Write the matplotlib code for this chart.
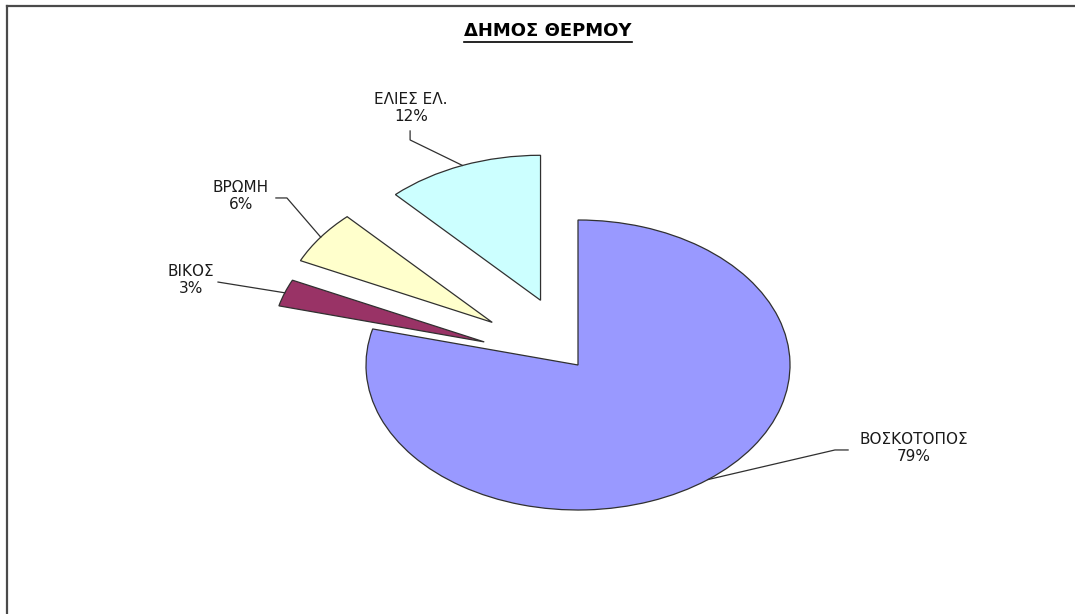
import numpy as np
import matplotlib
matplotlib.use("Agg")
import matplotlib.pyplot as plt
from matplotlib.lines import Line2D

# data
labels = ["ΒΟΣΚΟΤΟΠΟΣ", "ΒΙΚΟΣ", "ΒΡΩΜΗ", "ΕΛΙΕΣ ΕΛ."]
shares = [79, 3, 6, 12]
colors = ["#9999FF", "#993366", "#FFFFCC", "#CCFFFF"]
explode = [0, 0.47, 0.5, 0.48]
title = "ΔΗΜΟΣ ΘΕΡΜΟΥ"

# label layout (data units, pie radius = 1)
text_pos = [(1.585, -0.572), (-1.825, 0.586), (-1.59, 1.166), (-0.788, 1.772)]
elbow_pos = [[(1.212, -0.586), (1.274, -0.586)],
             [(-1.698, 0.572)],
             [(-1.373, 1.152), (-1.425, 1.152)],
             [(-0.792, 1.552), (-0.792, 1.614)]]

plt.rcParams['font.family'] = ['DejaVu Sans']

W, H = 1075, 614
fig = plt.figure(figsize=(W / 100, H / 100), dpi=100)
ax = fig.add_axes([0, 0, 1, 1])

wedges, _ = ax.pie(shares, colors=colors, explode=explode, startangle=90,
                   counterclock=False,
                   wedgeprops=dict(edgecolor="#303030", linewidth=0.9))

# stretched pie like the original
cx, cy, rx, ry = 578, 365, 212, 145
ax.set_aspect('auto')
ax.set_xlim(-cx / rx, (W - cx) / rx)
ax.set_ylim(-(H - cy) / ry, cy / ry)
ax.axis('off')

for w, lab, val, tp, elb in zip(wedges, labels, shares, text_pos, elbow_pos):
    mid = np.deg2rad((w.theta1 + w.theta2) / 2)
    ax0 = w.center[0] + w.r * np.cos(mid)
    ay0 = w.center[1] + w.r * np.sin(mid)
    xs = [ax0] + [p[0] for p in elb]
    ys = [ay0] + [p[1] for p in elb]
    ax.plot(xs, ys, color="#303030", lw=0.9)
    ax.text(tp[0], tp[1], "{}\n{}%".format(lab, val), ha='center', va='center',
            fontsize=11, linespacing=1.2, color="#1a1a1a")

t = fig.text(548 / W, 1 - 31 / H, title, ha='center', va='center',
             fontsize=13, fontweight='bold')
fig.canvas.draw()
bb = t.get_window_extent().transformed(fig.transFigure.inverted())
fig.add_artist(Line2D([bb.x0, bb.x1], [bb.y0 - 1.5 / H, bb.y0 - 1.5 / H],
                      transform=fig.transFigure, color='black', lw=1.2))

# frame lines (top and left)
fig.add_artist(Line2D([6.5 / W, 1], [1 - 5.5 / H, 1 - 5.5 / H],
                      transform=fig.transFigure, color='#4a4a4a', lw=1.6))
fig.add_artist(Line2D([6.5 / W, 6.5 / W], [0, 1 - 5.5 / H],
                      transform=fig.transFigure, color='#4a4a4a', lw=1.6))

fig.savefig("out.png", dpi=100)
